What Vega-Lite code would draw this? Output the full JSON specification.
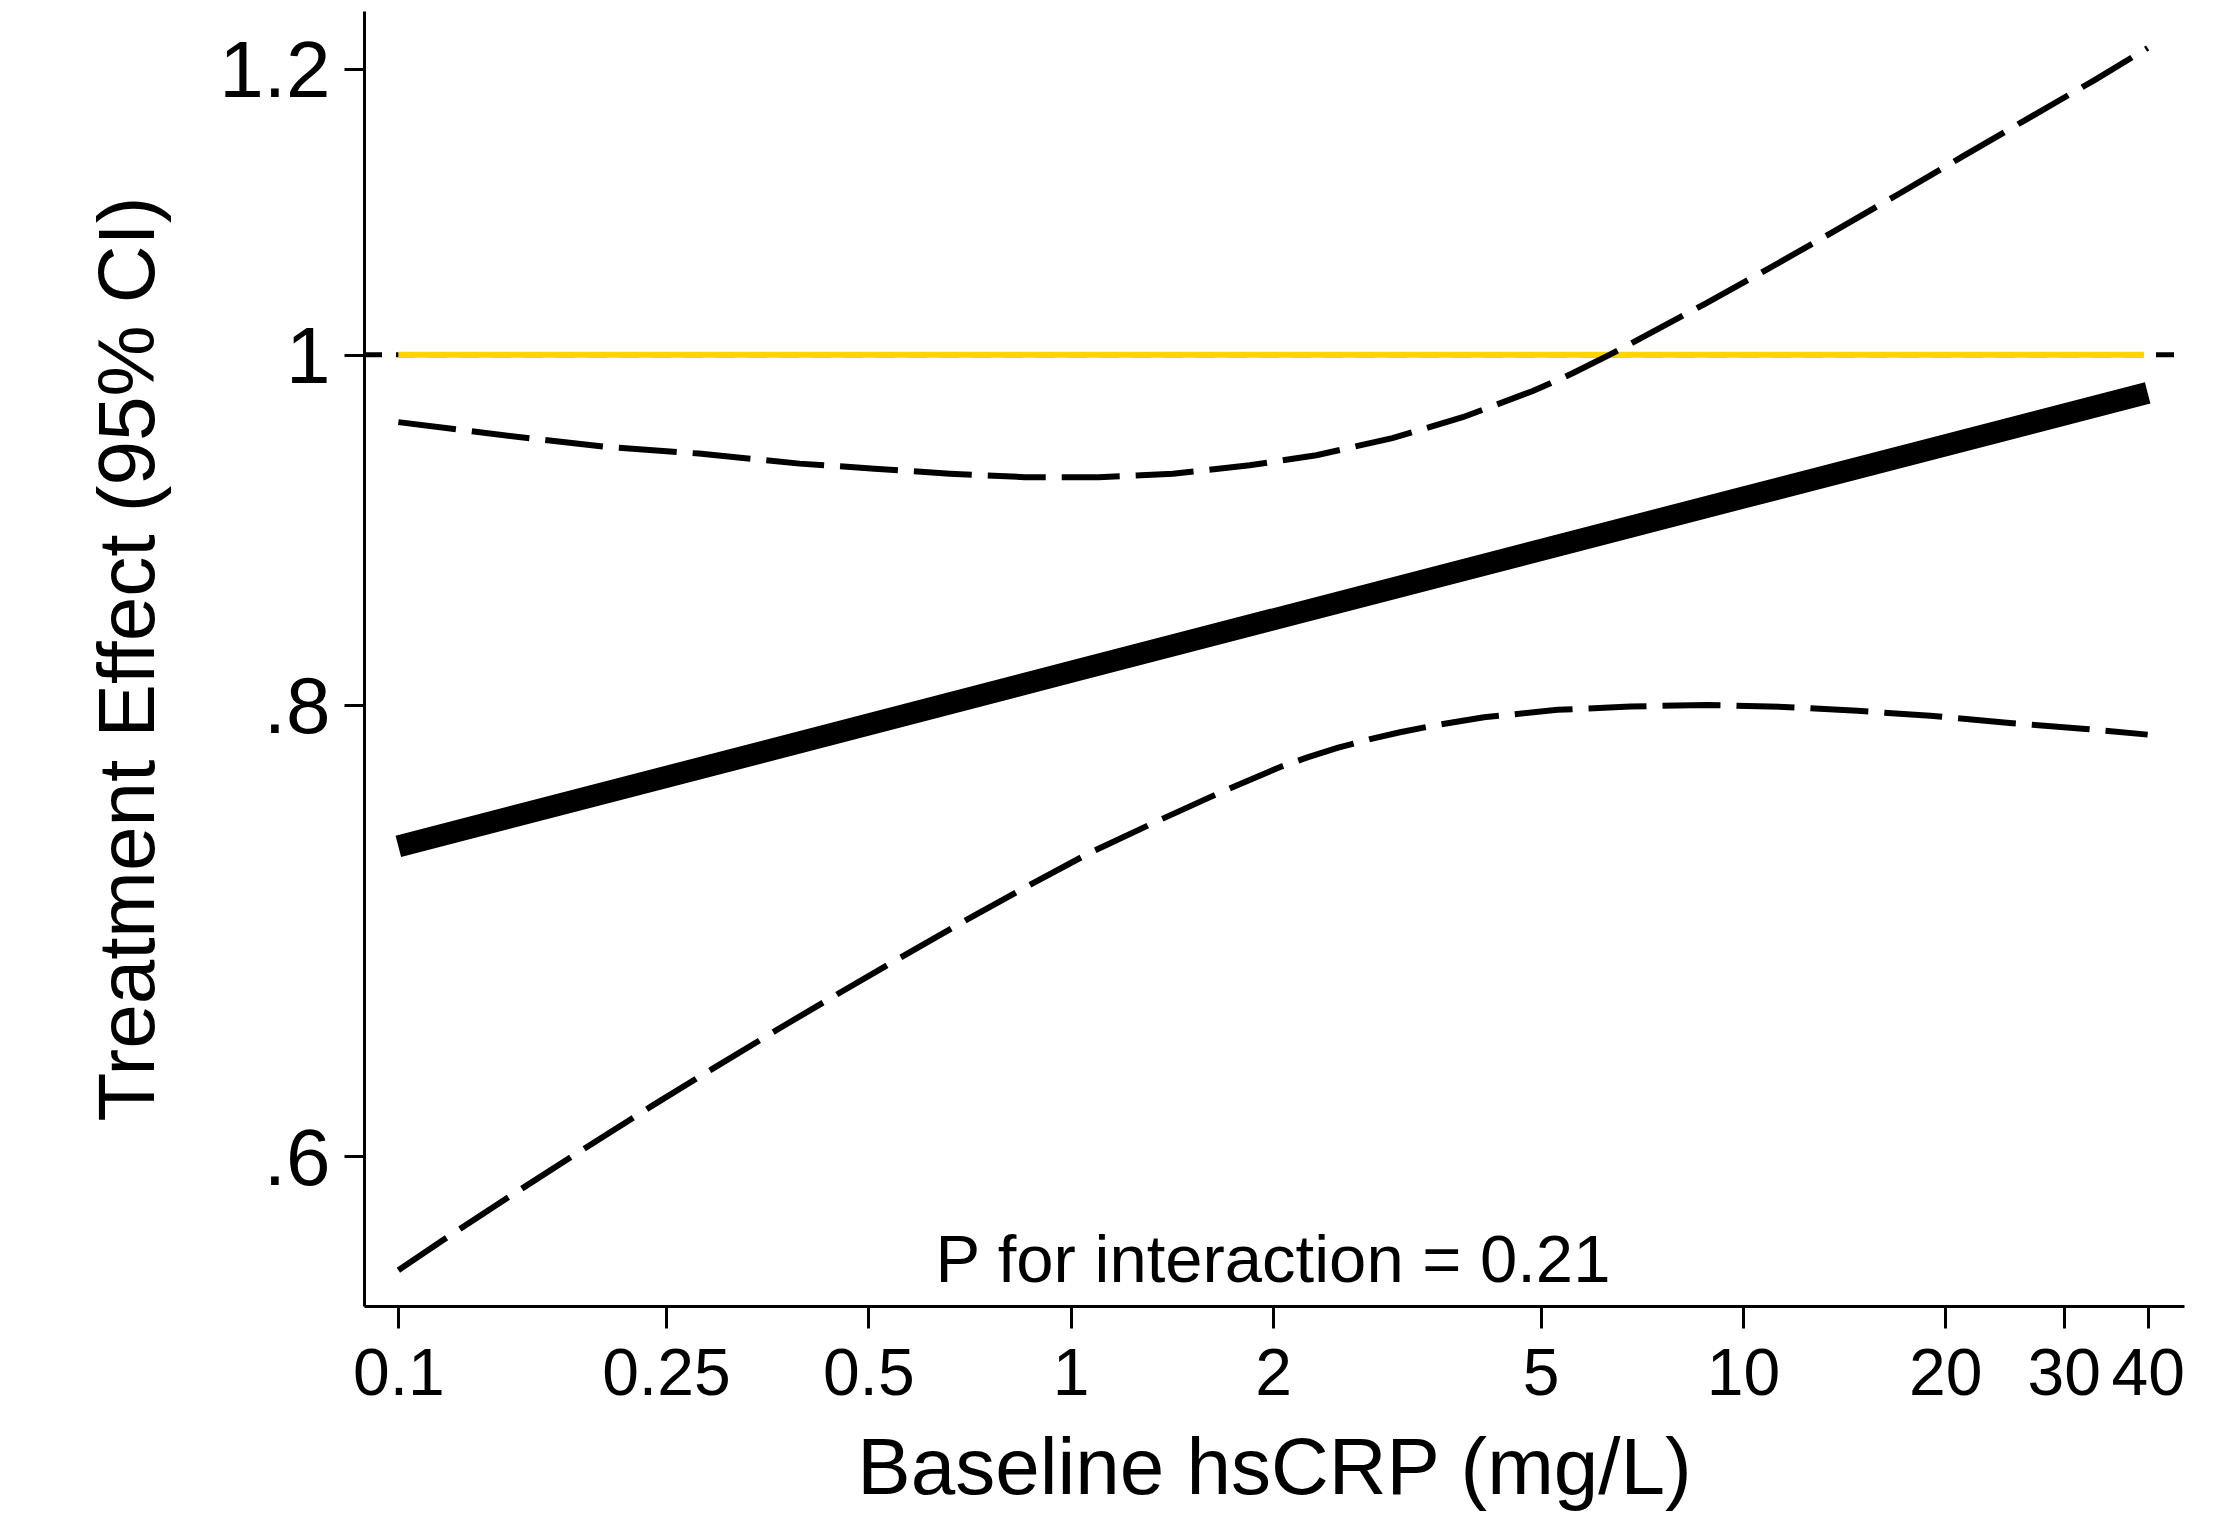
{
  "$schema": "https://vega.github.io/schema/vega-lite/v6.json",
  "width": 1820,
  "height": 1295,
  "autosize": {"type": "none"},
  "padding": {"left": 364, "top": 11, "right": 40, "bottom": 211},
  "background": "white",
  "config": {"view": {"stroke": null}, "font": "Liberation Sans"},
  "datasets": {
    "ref": [{"x": 0.0889, "y": 1}, {"x": 45.3, "y": 1}],
    "yellow": [{"x": 0.1, "y": 1}, {"x": 39.5, "y": 1}],
    "ci": [
      {"bound": "upper", "x": 0.1, "y": 0.958},
      {"bound": "upper", "x": 0.158, "y": 0.948},
      {"bound": "upper", "x": 0.204, "y": 0.943},
      {"bound": "upper", "x": 0.28, "y": 0.939},
      {"bound": "upper", "x": 0.395, "y": 0.933},
      {"bound": "upper", "x": 0.511, "y": 0.930},
      {"bound": "upper", "x": 0.661, "y": 0.927},
      {"bound": "upper", "x": 0.854, "y": 0.925},
      {"bound": "upper", "x": 1.1, "y": 0.925},
      {"bound": "upper", "x": 1.42, "y": 0.927},
      {"bound": "upper", "x": 1.846, "y": 0.932},
      {"bound": "upper", "x": 2.32, "y": 0.938},
      {"bound": "upper", "x": 3.01, "y": 0.9483},
      {"bound": "upper", "x": 3.83, "y": 0.961},
      {"bound": "upper", "x": 4.87, "y": 0.9772},
      {"bound": "upper", "x": 5.58, "y": 0.9883},
      {"bound": "upper", "x": 6.34, "y": 1.0001},
      {"bound": "upper", "x": 6.93, "y": 1.0089},
      {"bound": "upper", "x": 8.77, "y": 1.0329},
      {"bound": "upper", "x": 10.9, "y": 1.0563},
      {"bound": "upper", "x": 13.7, "y": 1.0822},
      {"bound": "upper", "x": 17.1, "y": 1.1083},
      {"bound": "upper", "x": 21.2, "y": 1.1346},
      {"bound": "upper", "x": 26.3, "y": 1.1614},
      {"bound": "upper", "x": 33.3, "y": 1.1912},
      {"bound": "upper", "x": 40, "y": 1.216},
      {"bound": "lower", "x": 0.1, "y": 0.558},
      {"bound": "lower", "x": 0.1187, "y": 0.5701},
      {"bound": "lower", "x": 0.1463, "y": 0.5848},
      {"bound": "lower", "x": 0.184, "y": 0.601},
      {"bound": "lower", "x": 0.239, "y": 0.6198},
      {"bound": "lower", "x": 0.294, "y": 0.6346},
      {"bound": "lower", "x": 0.369, "y": 0.651},
      {"bound": "lower", "x": 0.438, "y": 0.6634},
      {"bound": "lower", "x": 0.543, "y": 0.679},
      {"bound": "lower", "x": 0.684, "y": 0.6959},
      {"bound": "lower", "x": 0.854, "y": 0.712},
      {"bound": "lower", "x": 1.067, "y": 0.728},
      {"bound": "lower", "x": 1.348, "y": 0.743},
      {"bound": "lower", "x": 1.694, "y": 0.7575},
      {"bound": "lower", "x": 2.05, "y": 0.769},
      {"bound": "lower", "x": 2.25, "y": 0.7737},
      {"bound": "lower", "x": 2.5, "y": 0.7785},
      {"bound": "lower", "x": 2.8, "y": 0.7829},
      {"bound": "lower", "x": 3.09, "y": 0.7862},
      {"bound": "lower", "x": 3.5, "y": 0.7898},
      {"bound": "lower", "x": 4.12, "y": 0.7937},
      {"bound": "lower", "x": 5.3, "y": 0.7975},
      {"bound": "lower", "x": 6.8, "y": 0.7992},
      {"bound": "lower", "x": 8.84, "y": 0.800},
      {"bound": "lower", "x": 11.5, "y": 0.799},
      {"bound": "lower", "x": 14.8, "y": 0.797},
      {"bound": "lower", "x": 19, "y": 0.7945},
      {"bound": "lower", "x": 24.7, "y": 0.791},
      {"bound": "lower", "x": 32, "y": 0.788},
      {"bound": "lower", "x": 40, "y": 0.785}
    ],
    "effect": [
      {"x": 0.1, "y": 0.731},
      {"x": 1, "y": 0.817},
      {"x": 10, "y": 0.913},
      {"x": 40, "y": 0.976}
    ],
    "note": [{"x": 2, "y": 0.5537, "label": "P for interaction = 0.21"}]
  },
  "encoding": {
    "x": {
      "field": "x", "type": "quantitative",
      "scale": {"type": "log", "domain": [0.0889, 45.3], "nice": false},
      "axis": {
        "title": "Baseline hsCRP (mg/L)",
        "values": [0.1, 0.25, 0.5, 1, 2, 5, 10, 20, 30, 40],
        "labelExpr": "format(datum.value, '~g')",
        "grid": false,
        "domainColor": "black", "domainWidth": 3,
        "tickColor": "black", "tickWidth": 3, "tickSize": 22,
        "labelFontSize": 66, "labelColor": "black", "labelPadding": 14,
        "labelOverlap": false, "labelBound": false, "labelFlush": false,
        "titleFontSize": 80, "titleFontWeight": "normal", "titleColor": "black",
        "titleY": 124
      }
    },
    "y": {
      "field": "y", "type": "quantitative",
      "scale": {"type": "log", "domain": [0.5454, 1.245], "nice": false},
      "axis": {
        "title": "Treatment Effect (95% CI)",
        "values": [0.6, 0.8, 1, 1.2],
        "labelExpr": "datum.value < 1 ? replace(format(datum.value, '.1f'), '0.', '.') : format(datum.value, '~g')",
        "grid": false,
        "domainColor": "black", "domainWidth": 3,
        "tickColor": "black", "tickWidth": 3, "tickSize": 20,
        "labelFontSize": 80, "labelColor": "black", "labelPadding": 14,
        "labelOffset": 4, "labelOverlap": false, "labelBound": false, "labelFlush": false,
        "titleFontSize": 80, "titleFontWeight": "normal", "titleColor": "black",
        "titleX": -194
      }
    }
  },
  "layer": [
    {
      "data": {"name": "ref"},
      "mark": {"type": "line", "color": "black", "strokeWidth": 5, "strokeDash": [18, 14], "strokeCap": "butt"}
    },
    {
      "data": {"name": "yellow"},
      "mark": {"type": "line", "color": "#FFD400", "strokeWidth": 6, "strokeCap": "butt"}
    },
    {
      "data": {"name": "ci"},
      "mark": {"type": "line", "color": "black", "strokeWidth": 6, "strokeDash": [58, 16], "strokeCap": "butt"},
      "encoding": {
        "detail": {"field": "bound", "type": "nominal"},
        "order": {"field": "x", "type": "quantitative"}
      }
    },
    {
      "data": {"name": "effect"},
      "mark": {"type": "line", "color": "black", "strokeWidth": 22, "strokeCap": "butt"}
    },
    {
      "data": {"name": "note"},
      "mark": {"type": "text", "fontSize": 67, "color": "black", "align": "center", "baseline": "alphabetic"},
      "encoding": {
        "text": {"field": "label", "type": "nominal"}
      }
    }
  ]
}
